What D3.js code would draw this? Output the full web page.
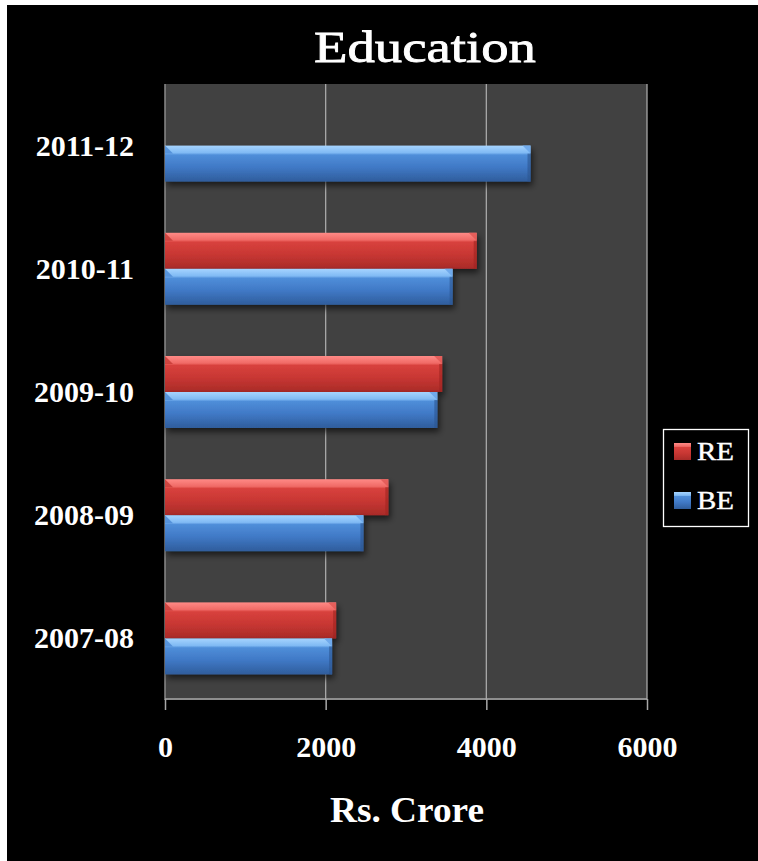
<!DOCTYPE html>
<html>
<head>
<meta charset="utf-8">
<script src="https://cdn.jsdelivr.net/npm/d3@7"></script>
<style>
  html, body { margin: 0; padding: 0; background: #ffffff; }
  svg { display: block; }
</style>
</head>
<body>
<svg id="chart" width="758" height="861"></svg>
<script>
// Education budget, Rs. Crore: Revised (RE) and Budget (BE) estimates by year
const categories = ["2011-12", "2010-11", "2009-10", "2008-09", "2007-08"];
const seriesNames = ["RE", "BE"];
const reValues = [null, 3880, 3450, 2780, 2130];
const beValues = [4550, 3580, 3390, 2470, 2080];
const xTicks = [0, 2000, 4000, 6000];
const xTickLabels = ["0", "2000", "4000", "6000"];

const W = 758, H = 861;
const plot = { left: 165, right: 647, top: 84, bottom: 700 };
const serif = "'Liberation Serif', 'Times New Roman', serif";

const svg = d3.select("#chart");

// Page frame: thin white margin at the top and left, black canvas
svg.append("rect").attr("x", 0).attr("y", 0).attr("width", W).attr("height", H).attr("fill", "#ffffff");
svg.append("rect").attr("x", 7).attr("y", 5).attr("width", W - 7).attr("height", H - 5).attr("fill", "#000000");

const defs = svg.append("defs");

function barGradient(id, stops) {
  const g = defs.append("linearGradient").attr("id", id)
    .attr("x1", 0).attr("y1", 0).attr("x2", 0).attr("y2", 1);
  stops.forEach(([o, c]) => g.append("stop").attr("offset", o).attr("stop-color", c));
}
barGradient("grad-RE", [[0, "#ff8a86"], [0.2, "#f06a66"], [0.26, "#d8413d"], [0.6, "#c83733"], [1, "#a92b28"]]);
barGradient("grad-BE", [[0, "#a6d4ff"], [0.2, "#80baf4"], [0.26, "#4f8ed9"], [0.6, "#4079c6"], [1, "#2f5d9c"]]);

const shadow = defs.append("filter").attr("id", "bar-shadow")
  .attr("x", "-5%").attr("y", "-20%").attr("width", "115%").attr("height", "160%");
shadow.append("feGaussianBlur").attr("in", "SourceAlpha").attr("stdDeviation", 3).attr("result", "b");
shadow.append("feOffset").attr("in", "b").attr("dx", 2).attr("dy", 4).attr("result", "o");
shadow.append("feComponentTransfer").attr("in", "o").attr("result", "s")
  .append("feFuncA").attr("type", "linear").attr("slope", 0.6);
const merge = shadow.append("feMerge");
merge.append("feMergeNode").attr("in", "s");
merge.append("feMergeNode").attr("in", "SourceGraphic");

// Scales
const x = d3.scaleLinear().domain([0, 6000]).range([plot.left, plot.right]);
const y = d3.scaleBand().domain(categories).range([plot.top, plot.bottom])
  .paddingInner(0.4156).paddingOuter(0.2078);
const ySub = d3.scaleBand().domain(seriesNames).range([0, y.bandwidth()]);

// Plot area
svg.append("rect")
  .attr("x", plot.left).attr("y", plot.top)
  .attr("width", plot.right - plot.left).attr("height", plot.bottom - plot.top)
  .attr("fill", "#414141");

// Vertical gridlines
svg.append("g").selectAll("line").data(xTicks.slice(1)).join("line")
  .attr("x1", d => x(d)).attr("x2", d => x(d))
  .attr("y1", plot.top).attr("y2", plot.bottom)
  .attr("stroke", "#a8a8a8").attr("stroke-width", 1.3);

// Left wall edge
svg.append("line")
  .attr("x1", plot.left).attr("x2", plot.left).attr("y1", plot.top).attr("y2", plot.bottom)
  .attr("stroke", "#8a8a8a").attr("stroke-width", 1.5);

// Bars
const rows = categories.map((c, i) => ({ cat: c, RE: reValues[i], BE: beValues[i] }));
const barData = [];
rows.forEach(r => seriesNames.forEach(s => {
  if (r[s] != null) barData.push({ cat: r.cat, series: s, value: r[s] });
}));

const bars = svg.append("g").selectAll("g.bar").data(barData).join("g")
  .attr("class", "bar")
  .attr("filter", "url(#bar-shadow)");

bars.append("rect")
  .attr("x", x(0))
  .attr("y", d => y(d.cat) + ySub(d.series))
  .attr("width", d => x(d.value) - x(0))
  .attr("height", ySub.bandwidth())
  .attr("fill", d => `url(#grad-${d.series})`);

// Bevelled corners at the bar ends
const bevel = 8;
bars.append("path")
  .attr("d", d => {
    const x1 = x(d.value), y0 = y(d.cat) + ySub(d.series);
    return `M${x1 - bevel},${y0} L${x1},${y0} L${x1},${y0 + bevel} Z`;
  })
  .attr("fill", d => d.series === "RE" ? "#e25a56" : "#6aa6ea")
  .attr("opacity", 0.9);
bars.append("path")
  .attr("d", d => {
    const x0 = x(0), y0 = y(d.cat) + ySub(d.series);
    return `M${x0},${y0} L${x0 + bevel},${y0 + bevel} L${x0},${y0 + bevel} Z`;
  })
  .attr("fill", d => d.series === "RE" ? "#c53a36" : "#4a88d4")
  .attr("opacity", 0.8);
bars.append("rect")
  .attr("x", d => x(d.value) - 3)
  .attr("y", d => y(d.cat) + ySub(d.series) + bevel)
  .attr("width", 3)
  .attr("height", ySub.bandwidth() - bevel)
  .attr("fill", d => d.series === "RE" ? "#9e2522" : "#2b558f")
  .attr("opacity", 0.6);

// X axis
const xAxis = d3.axisBottom(x).tickValues(xTicks).tickSize(11).tickFormat((d, i) => xTickLabels[i]);
const gx = svg.append("g").attr("transform", `translate(0,${plot.bottom - 1})`).call(xAxis);
gx.select(".domain").attr("stroke", "#a8a8a8").attr("stroke-width", 1.5).attr("d", `M${plot.left},0H${plot.right}`);
gx.selectAll(".tick line").attr("stroke", "#a8a8a8").attr("stroke-width", 1.5);
gx.selectAll(".tick text")
  .attr("fill", "#ffffff").attr("y", 58).attr("dy", 0)
  .attr("font-family", serif).attr("font-weight", "bold").attr("font-size", 30);

// Y axis category labels
const yAxis = d3.axisLeft(y).tickSize(0).tickPadding(31);
const gy = svg.append("g").attr("transform", `translate(${plot.left},0)`).call(yAxis);
gy.select(".domain").remove();
gy.selectAll(".tick text")
  .attr("fill", "#ffffff").attr("font-family", serif).attr("font-weight", "bold").attr("font-size", 30)
  .attr("dy", "0.33em");
// Labels sit at the join of the two bars in each group
gy.selectAll(".tick").attr("transform", d => `translate(0,${y(d) + ySub.bandwidth()})`);

// Title
svg.append("text")
  .attr("x", 425).attr("y", 62).attr("text-anchor", "middle")
  .attr("fill", "#ffffff").attr("stroke", "#ffffff").attr("stroke-width", 0.8)
  .attr("font-family", serif).attr("font-size", 45)
  .attr("textLength", 222).attr("lengthAdjust", "spacingAndGlyphs")
  .text("Education");

// X axis title
svg.append("text")
  .attr("x", 407).attr("y", 822).attr("text-anchor", "middle")
  .attr("fill", "#ffffff").attr("font-family", serif).attr("font-weight", "bold").attr("font-size", 35)
  .attr("textLength", 154).attr("lengthAdjust", "spacingAndGlyphs")
  .text("Rs. Crore");

// Legend
const legend = svg.append("g");
legend.append("rect")
  .attr("x", 663.5).attr("y", 429.5).attr("width", 85).attr("height", 97)
  .attr("fill", "#000000").attr("stroke", "#ffffff").attr("stroke-width", 1.3);
const legendItems = legend.selectAll("g").data(seriesNames).join("g")
  .attr("transform", (d, i) => `translate(674,${443 + i * 49})`);
legendItems.append("rect")
  .attr("width", 17).attr("height", 17)
  .attr("fill", d => `url(#grad-${d})`);
legendItems.append("text")
  .attr("x", 23).attr("y", 17)
  .attr("fill", "#ffffff").attr("stroke", "#ffffff").attr("stroke-width", 0.4)
  .attr("font-family", serif).attr("font-size", 25)
  .attr("textLength", 37).attr("lengthAdjust", "spacingAndGlyphs")
  .text(d => d);
</script>
</body>
</html>
